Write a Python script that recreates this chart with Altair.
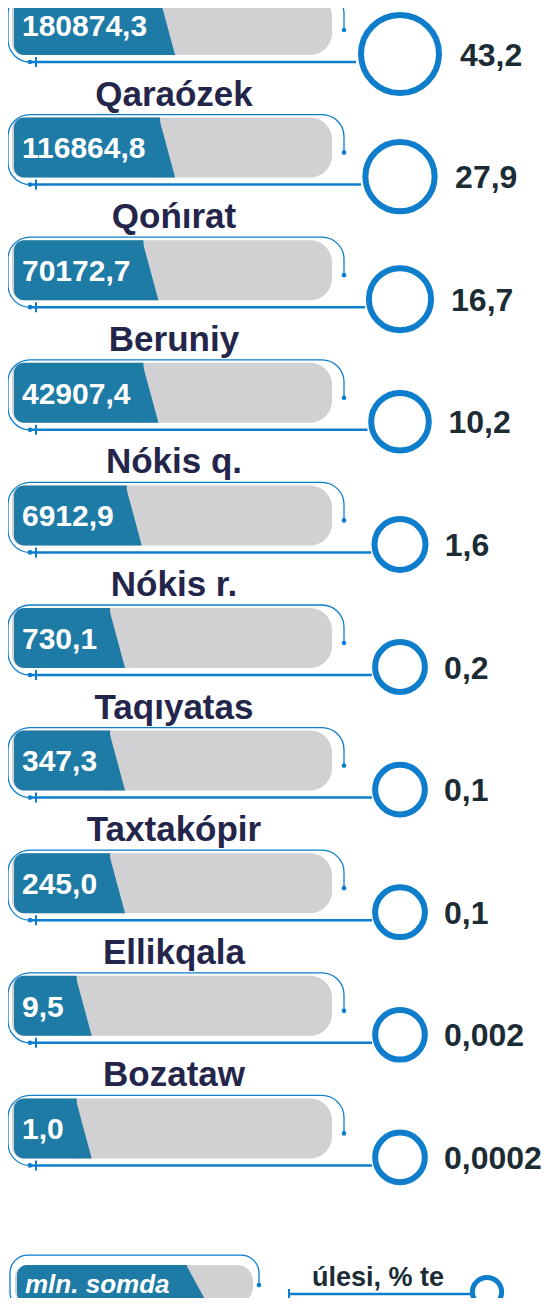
import math
import altair as alt
import pandas as pd

# ---------------- data ----------------
names = ["", "Qaraózek", "Qońırat", "Beruniy", "Nókis q.", "Nókis r.",
         "Taqıyatas", "Taxtakópir", "Ellikqala", "Bozataw"]   # first name is cropped off
values = [180874.3, 116864.8, 70172.7, 42907.4, 6912.9, 730.1, 347.3, 245.0, 9.5, 1.0]
shares = [43.2, 27.9, 16.7, 10.2, 1.6, 0.2, 0.1, 0.1, 0.002, 0.0002]
unit_label = "mln. somda"
share_title = "úlesi, % te"

# ---------------- layout / style ----------------
W, H = 534, 1290
ROW_TOP, ROW_STEP = 17, 122.6
BAR_H = 60
GRAY_X0, GRAY_X1 = 4, 324
BLUE_X0 = 6
LABEL_X = 14
LABEL_SIZE = 30
CIRCLE_X = 392
CIRCLE_DY = 29
LINE_DY = 37
OUT_X0, OUT_X1, OUT_TOP, OUT_R = 0, 336, -33, 22
DOT_DY = 5
R_MIN, R_MAX = 28, 44
RING_W = 6
SLANT = 15
NAME_X = 166

BLUE = "#1e7ba6"
GRAY = "#d1d1d4"
RING = "#0d7dcc"
NAVY = "#23254a"
DARK = "#1c2c35"
FONT = "Liberation Sans"


def text_w(s, size):
    return size * sum(0.556 if c.isdigit() else 0.278 for c in s)


def fmt(v):
    return f"{v:.1f}".replace(".", ",")


def share_fmt(s):
    return str(s).replace(".", ",")


smax = max(shares)
SIZE_RANGE = [math.pi * R_MIN ** 2, math.pi * R_MAX ** 2]


def radius(s):
    size = SIZE_RANGE[0] + s / smax * (SIZE_RANGE[1] - SIZE_RANGE[0])
    return math.sqrt(size / math.pi)


rows = []
for i, (n, v, s) in enumerate(zip(names, values, shares)):
    lab = fmt(v)
    blue_end = LABEL_X + text_w(lab, LABEL_SIZE) + 13
    r = radius(s)
    rows.append(dict(
        row=i, name=n, label=lab, share=s, share_label=share_fmt(s),
        gx0=GRAY_X0, gx1=GRAY_X1, bx0=BLUE_X0, bx1=blue_end,
        tri_x=blue_end + SLANT / 2, label_x=LABEL_X,
        ox0=OUT_X0, ox1=OUT_X1, dot_l=OUT_X0 + OUT_R, tick_x=OUT_X0 + OUT_R + 6,
        line_x0=OUT_X0 + OUT_R, line_x2=CIRCLE_X - r, circle_x=CIRCLE_X,
        share_x=CIRCLE_X + r + RING_W / 2 + 13, name_x=NAME_X,
    ))
df = pd.DataFrame(rows)

LEG_ROW = 10.27
leg = pd.DataFrame([dict(
    row=LEG_ROW, label=unit_label, title=share_title,
    gx0=7, gx1=245, bx0=9, bx1=179, tri_x=189, label_x=17,
    ox0=2, ox1=251, dot_r=251, tick_x=281, line_x0=281, line_x2=462,
    circle_x=479, title_x=370,
)])

xs = alt.Scale(domain=[0, W], nice=False, zero=False)
ys = alt.Scale(domain=[-ROW_TOP / ROW_STEP, (H - ROW_TOP) / ROW_STEP],
               nice=False, zero=False, reverse=True)


def X(f):
    return alt.X(f"{f}:Q", scale=xs, axis=None)


Y = alt.Y("row:Q", scale=ys, axis=None)


def outline_dash(w, h, r, top, dot_dy):
    straight_top = w - 2 * r
    arc = math.pi * r / 2
    right_len = h - 2 * r
    first_right = (dot_dy - (top + r))
    d1 = straight_top + arc + first_right
    gap = (right_len - first_right) + arc + straight_top
    return [round(d1, 1), round(gap, 1), 400]


def tri_path(width, height):
    k = width / height
    return f"M{-k - 0.04:.3f},-1L{-k - 0.04:.3f},1L{k:.3f},1Z"


def row_layers(d, bar_h, corner_r, slant, lab_size, italic, out_top, out_bottom,
               out_r, dot_dy, line_dy):
    base = alt.Chart(d)
    layers = []
    layers.append(base.mark_rect(
        color=GRAY, cornerRadiusTopRight=corner_r, cornerRadiusBottomRight=corner_r,
        cornerRadiusTopLeft=12, cornerRadiusBottomLeft=12,
        yOffset=-bar_h / 2, y2Offset=bar_h / 2
    ).encode(x=X("gx0"), x2="gx1", y=Y, y2="row"))
    layers.append(base.mark_rect(
        color=BLUE, cornerRadiusTopLeft=10, cornerRadiusBottomLeft=10,
        yOffset=-bar_h / 2, y2Offset=bar_h / 2
    ).encode(x=X("bx0"), x2="bx1", y=Y, y2="row"))
    layers.append(base.mark_point(
        shape=tri_path(slant / 2, bar_h / 2), size=bar_h ** 2, filled=True,
        opacity=1, color=BLUE, strokeWidth=0
    ).encode(x=X("tri_x"), y=Y))
    txt = dict(align="left", baseline="alphabetic", dy=lab_size * 0.36, font=FONT,
               fontSize=lab_size, fontWeight="bold", color="white")
    if italic:
        txt["fontStyle"] = "italic"
    layers.append(base.mark_text(**txt).encode(x=X("label_x"), y=Y, text="label:N"))
    ow = float(d["ox1"].iloc[0] - d["ox0"].iloc[0])
    oh = out_bottom - out_top
    layers.append(base.mark_rect(
        filled=False, color=RING, strokeWidth=1.3, cornerRadius=out_r,
        strokeDash=outline_dash(ow, oh, out_r, out_top, dot_dy),
        yOffset=out_top, y2Offset=out_bottom
    ).encode(x=X("ox0"), x2="ox1", y=Y, y2="row"))
    layers.append(base.mark_point(
        filled=True, size=22, opacity=1, color=RING, yOffset=dot_dy
    ).encode(x=X("ox1"), y=Y))
    layers.append(base.mark_point(
        shape="M0,-1L0,1", filled=False, size=100, strokeWidth=2, opacity=1,
        color=RING, yOffset=line_dy
    ).encode(x=X("tick_x"), y=Y))
    layers.append(base.mark_rule(
        color=RING, strokeWidth=2.5, yOffset=line_dy
    ).encode(x=X("line_x0"), x2="line_x2", y=Y))
    return layers


main_layers = row_layers(df, BAR_H, 22, SLANT, LABEL_SIZE, False, OUT_TOP, LINE_DY,
                         OUT_R, DOT_DY, LINE_DY)
base = alt.Chart(df)
main_layers.append(base.mark_point(
    filled=True, size=22, opacity=1, color=RING, yOffset=LINE_DY
).encode(x=X("dot_l"), y=Y))
main_layers.append(base.mark_point(
    shape="circle", filled=False, strokeWidth=RING_W, opacity=1, color=RING,
    yOffset=CIRCLE_DY
).encode(x=X("circle_x"), y=Y,
         size=alt.Size("share:Q", scale=alt.Scale(domain=[0, smax], range=SIZE_RANGE),
                       legend=None)))
main_layers.append(base.mark_text(
    align="left", baseline="alphabetic", dy=CIRCLE_DY + 11.5, font=FONT, fontSize=32,
    fontWeight="bold", color=DARK
).encode(x=X("share_x"), y=Y, text="share_label:N"))
main_layers.append(base.transform_filter("datum.name != ''").mark_text(
    align="center", baseline="alphabetic", dy=-42, font=FONT, fontSize=35,
    fontWeight="bold", color=NAVY
).encode(x=X("name_x"), y=Y, text="name:N"))

leg_layers = row_layers(leg, 38, 16, 20, 26, True, -29, 26, 18, 1, 10)
lb = alt.Chart(leg)
leg_layers.append(lb.mark_point(
    shape="circle", filled=False, strokeWidth=5, opacity=1, color=RING,
    size=math.pi * 16.5 ** 2, yOffset=8
).encode(x=X("circle_x"), y=Y))
leg_layers.append(lb.mark_text(
    align="center", baseline="alphabetic", dy=2, font=FONT, fontSize=27,
    fontWeight="bold", color=DARK
).encode(x=X("title_x"), y=Y, text="title:N"))

chart = alt.layer(*main_layers, *leg_layers).properties(
    width=W, height=H,
    autosize=alt.AutoSizeParams(type="none"),
    padding=0,
    background="white",
).configure_view(stroke=None)

chart.save("out.html", embed_options={"renderer": "svg", "actions": False})
